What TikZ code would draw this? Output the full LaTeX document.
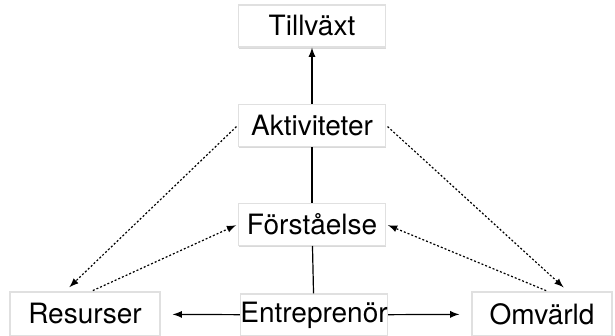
\documentclass[tikz,border=0pt]{standalone}
\usepackage{fontspec}
\setmainfont{TeX Gyre Heros}
\usetikzlibrary{arrows, positioning, shadows}

\begin{document}
\begin{tikzpicture}[
            x = 0.5pt, y = -0.5pt, % pixel grid of the sketch
            > = latex, % arrow head style
            node distance = 28pt, % vertical gap between boxes
            semithick % line style
        ]

        \tikzstyle{box}=[
            draw = black!12,
            fill = white,
            minimum width = 73.5pt,
            minimum height = 21pt,
            inner sep = 0pt,
            font = \fontsize{14}{16}\selectfont,
            drop shadow = {opacity = 0.3, shadow xshift = 0.4pt, shadow yshift = -0.8pt}
        ]
        \tikzstyle{link}=[line width = 0.6pt, dash pattern = on 1pt off 1pt]

        \useasboundingbox (0, 0) rectangle (615, 336);

        \node[box] (tillvaxt) at (312, 26) {Tillväxt};
        \node[box] (aktiv) [below=of tillvaxt] {Aktiviteter};
        \node[box] (forst) [below=of aktiv] {Förståelse};
        \node[box] (entr) at (314, 315) {Entreprenör};
        \node[box, minimum width = 75pt, minimum height = 22pt] (resurs) at (85, 314) {Resurser};
        \node[box, minimum width = 70pt, minimum height = 22pt] (omv) at (542, 314) {Omvärld};

        \draw[->] (aktiv) -- (tillvaxt);
        \draw (forst) -- (aktiv);
        \draw (entr) -- (forst);
        \draw[->, shorten > = 6pt] (entr) -- (resurs);
        \draw[->, shorten > = 6pt] (entr) -- (omv);

        \draw[link, ->, shorten <= 1pt, shorten > = 3pt] (aktiv.west) -- ([xshift=-10]resurs.north);
        \draw[link, ->, shorten <= 1pt, shorten > = 1pt] ([xshift=3]resurs.north) -- (forst.west);
        \draw[link, ->, shorten <= 1pt, shorten > = 3pt] (aktiv.east) -- ([xshift=13]omv.north);
        \draw[link, ->, shorten <= 1pt, shorten > = 1pt] ([xshift=3]omv.north) -- (forst.east);

        %\draw[red] (0, 0) rectangle (615, 336);
    \end{tikzpicture}
\end{document}
